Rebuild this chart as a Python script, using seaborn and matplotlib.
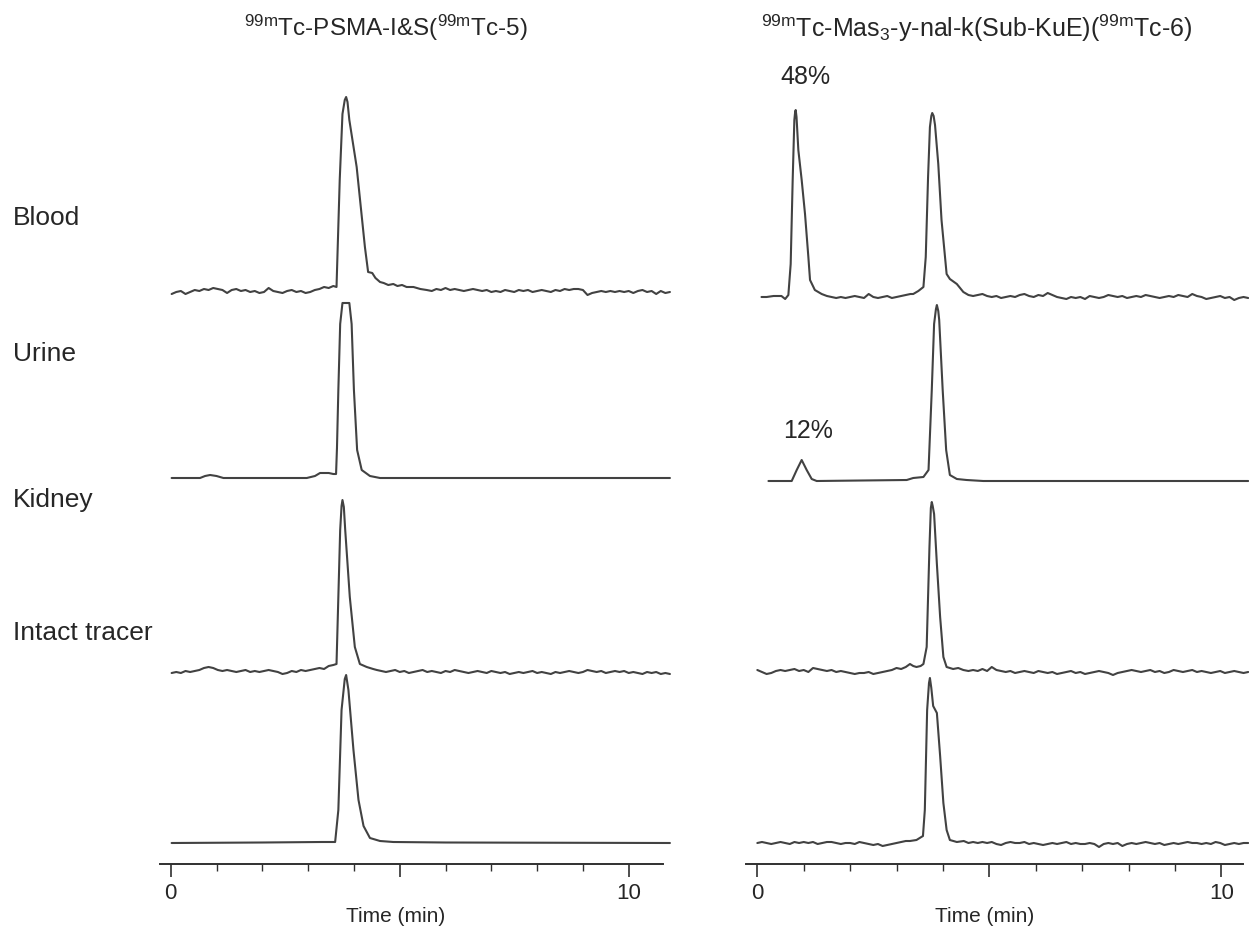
import numpy as np
import pandas as pd
import matplotlib
matplotlib.use("Agg")
import matplotlib.pyplot as plt
import seaborn as sns

# ---------------- data (time in min, signal in arbitrary units above baseline) ----------------
samples = ["Blood", "Urine", "Kidney", "Intact tracer"]
compounds = ["Tc-5", "Tc-6"]
time_ticks = [0, 5, 10]
time_tick_labels = ["0", "", "10"]
minor_ticks = [1, 2, 3, 4, 6, 7, 8, 9]

# 99mTc-5, blood
blood5_pre = [-2, 0, 1, -2, 0, 2, 1, 3, 2, 4, 3, 2, -1, 2, 3, 1, 2, 0, 1, -1, 0, 4, 1, 0,
              -1, 1, 2, 0, 1, -1, 0, 2, 3, 5, 4, 6]
blood5_peak_t = [3.62, 3.69, 3.75, 3.80, 3.83, 3.86, 3.90, 4.06, 4.24, 4.31, 4.40, 4.47, 4.57,
                 4.65, 4.75, 4.86, 4.95, 5.05, 5.15, 5.30, 5.45, 5.59]
blood5_peak_h = [5, 112, 178, 192, 195, 190, 172, 125, 45, 20, 19, 14, 10, 9, 7, 8, 6, 7, 5, 5,
                 3, 2]
blood5_post = [1, 3, 2, 4, 2, 3, 2, 1, 2, 3, 2, 1, 2, 0, 1, 0, 2, 1, 0, 2, 1, 2, 0, 1, 2, 1,
               0, 2, 1, 3, 2, 3, 3, 2, -3, -1, 0, 1, 0, 1, 0, 1, 0, 1, -1, 1, 2, 0, 1, -2, 1, -1, 0]

# 99mTc-5, urine (smooth)
urine5_t = [0.02, 0.50, 0.64, 0.75, 0.86, 1.00, 1.15, 1.40, 2.97, 3.15, 3.26, 3.45, 3.55, 3.61,
            3.63, 3.66, 3.70, 3.75, 3.90, 3.95, 4.00, 4.07, 4.17, 4.35, 4.57, 6.00, 10.90]
urine5_h = [0, 0, 0, 2, 3, 2, 0, 0, 0, 2, 5, 5, 4, 4, 30, 88, 154, 175, 175, 154, 88, 28, 8, 2,
            0, 0, 0]

# 99mTc-5, kidney
kidney5_pre = [-1, 0, -1, 1, 0, 1, 2, 4, 5, 4, 2, 1, 2, 1, 0, 1, 2, 0, 1, 0, 1, 2, 1, 0, -2,
               -1, 1, 0, 2, 1, 2, 3, 4, 3, 6, 7]
kidney5_peak_t = [3.62, 3.70, 3.73, 3.75, 3.78, 3.81, 3.91, 4.02, 4.13, 4.28, 4.42]
kidney5_peak_h = [8, 142, 166, 172, 165, 142, 75, 25, 8, 5, 3]
kidney5_post = [2, 1, 0, 1, 2, 0, 1, -1, 0, 1, 2, 0, 1, 0, -1, 1, 0, 2, 1, 0, -1, 0, 1, 0, -1,
                1, 0, -1, 0, -2, -1, 0, -1, 0, 1, -1, 0, -1, -2, 0, -1, 0, 1, 0, -1, 0, 2, 1,
                0, 1, -1, 0, 1, 0, 1, -1, 0, -1, -2, 0, -1, 0, -2, -1, -2]

# 99mTc-5, intact tracer (smooth)
intact5_t = [0.02, 2.00, 3.30, 3.55, 3.59, 3.66, 3.73, 3.80, 3.83, 3.88, 3.99, 4.10, 4.21,
             4.35, 4.57, 4.86, 6.00, 10.90]
intact5_h = [0, 0.5, 1, 1, 1, 33, 133, 164, 168, 153, 93, 43, 17, 5, 2, 1, 0.5, 0]

# 99mTc-6, blood (metabolite at ~0.8 min)
blood6_pre_t = [0.09, 0.20, 0.35, 0.52, 0.60]
blood6_pre_h = [0, 0, 1, 1, -2]
blood6_peak1_t = [0.669, 0.719, 0.762, 0.798, 0.815, 0.827, 0.845, 0.884, 0.956, 1.028, 1.10,
                  1.136, 1.24, 1.387]
blood6_peak1_h = [2, 33, 117, 177, 185, 187, 180, 147, 117, 83, 40, 17, 7, 3]
blood6_mid = [1, 0, -1, 0, -1, 0, 1, 0, -1, 3, 0, -1, 0, 1, -1, 0, 1, 2, 3]
blood6_peak2_t = [3.36, 3.47, 3.58, 3.63, 3.68, 3.72, 3.75, 3.77, 3.80, 3.83, 3.90, 3.97, 4.08,
                  4.15, 4.30, 4.44]
blood6_peak2_h = [3, 6, 10, 40, 120, 170, 181, 184, 181, 172, 133, 77, 23, 18, 13, 5]
blood6_post = [2, 1, 2, 3, 1, 0, 1, -1, 0, 1, 0, 2, 3, 1, 0, 2, 1, 4, 2, 0, -1, -2, 0, -1, 0,
               -2, 1, 0, -1, 0, 2, 1, 0, 1, -1, 0, 1, 0, 2, 1, 0, -1, 0, 1, 0, 2, 1, 0, 3, 1,
               0, -2, -1, 0, 1, -1, 0, -3, -1, 0, -1]

# 99mTc-6, urine (smooth)
urine6_t = [0.24, 0.741, 0.849, 0.956, 1.064, 1.172, 1.28, 3.22, 3.36, 3.58, 3.69, 3.76, 3.81,
            3.85, 3.87, 3.90, 3.92, 3.995, 4.07, 4.15, 4.30, 4.51, 4.87, 10.58]
urine6_h = [0, 0, 11, 21, 11, 2, 0, 1, 3, 4, 11, 91, 157, 172, 176, 170, 161, 91, 31, 6, 2, 1,
            0, 0]

# 99mTc-6, kidney
kidney6_pre = [2, 0, -2, -1, 1, 2, 1, 2, 3, 1, 2, 0, 4, 3, 2, 1, 2, 0, 1, 0, -1, -2, -1, -1, 0,
               -2, -1, 0, 1, 2, 4, 3, 5]
kidney6_peak_t = [3.29, 3.36, 3.43, 3.52, 3.58, 3.65, 3.71, 3.74, 3.76, 3.78, 3.81, 3.87, 3.94,
                  4.01, 4.08, 4.22, 4.33, 4.44]
kidney6_peak_h = [8, 6, 5, 6, 8, 25, 125, 164, 170, 166, 158, 108, 55, 15, 5, 3, 4, 2]
kidney6_post = [1, 2, 1, 3, 1, 5, 2, 1, 0, 1, -1, 0, 1, 0, -1, 1, 0, -1, 0, -2, -1, 0, 1, -1, 0,
                -2, -1, 0, 1, 0, -1, -3, -1, 0, 1, 2, 1, 0, 1, 2, 0, 1, -1, 0, 2, 1, 0, 1, 2,
                0, 1, 0, -1, 0, 1, -1, 0, 1, 0, -1, 0]

# 99mTc-6, intact tracer
intact6_pre = [0, 1, 0, -1, 0, 1, 0, -1, 1, 0, 1, 0, 1, -1, 0, 1, 1, 0, -1, 0, 0, -1, 1, 0, -1,
               -2, -1, -3, -2, -1, 0, 1, 2]
intact6_peak_t = [3.29, 3.43, 3.50, 3.57, 3.61, 3.66, 3.70, 3.72, 3.75, 3.79, 3.87, 3.94, 4.01,
                  4.08, 4.15, 4.30]
intact6_peak_h = [2, 3, 5, 7, 33, 133, 160, 165, 155, 137, 130, 87, 40, 13, 3, 1]
intact6_post = [2, 0, 1, 0, 1, 0, 1, -1, -2, 0, 1, 0, 0, 1, -1, 0, -1, -2, -1, 0, -1, 0, 1, -1,
                0, -1, -1, 0, -1, -4, -1, 0, -1, 0, -3, -1, 0, -1, 0, 1, 0, -1, 0, -2, -1, 0,
                -1, 0, 1, 0, 0, -1, 0, -1, 1, 0, -2, -1, 0, -1, 0, 0]


def seg(t0, t1, vals):
    # baseline samples recorded at an even detector rate
    return list(np.linspace(t0, t1, len(vals))), list(vals)


def join(*parts):
    t, h = [], []
    for pt, ph in parts:
        t += list(pt)
        h += list(ph)
    return t, h


traces = {
    ("Tc-5", "Blood"): join(seg(0.02, 3.55, blood5_pre), (blood5_peak_t, blood5_peak_h),
                            seg(5.70, 10.90, blood5_post)),
    ("Tc-5", "Urine"): (urine5_t, urine5_h),
    ("Tc-5", "Kidney"): join(seg(0.02, 3.55, kidney5_pre), (kidney5_peak_t, kidney5_peak_h),
                             seg(4.50, 10.90, kidney5_post)),
    ("Tc-5", "Intact tracer"): (intact5_t, intact5_h),
    ("Tc-6", "Blood"): join((blood6_pre_t, blood6_pre_h), (blood6_peak1_t, blood6_peak1_h),
                            seg(1.50, 3.30, blood6_mid), (blood6_peak2_t, blood6_peak2_h),
                            seg(4.55, 10.58, blood6_post)),
    ("Tc-6", "Urine"): (urine6_t, urine6_h),
    ("Tc-6", "Kidney"): join(seg(0.0, 3.20, kidney6_pre), (kidney6_peak_t, kidney6_peak_h),
                             seg(4.55, 10.58, kidney6_post)),
    ("Tc-6", "Intact tracer"): join(seg(0.0, 3.20, intact6_pre), (intact6_peak_t, intact6_peak_h),
                                    seg(4.45, 10.58, intact6_post)),
}

rows = []
for (comp, samp), (t, h) in traces.items():
    for ti, hi in zip(t, h):
        rows.append({"compound": comp, "sample": samp, "time": ti, "signal": hi})
df = pd.DataFrame(rows)

# ---------------- style ----------------
sns.set_style("white")
plt.rcParams["font.family"] = ["Liberation Sans", "DejaVu Sans"]
plt.rcParams["mathtext.fontset"] = "custom"
plt.rcParams["mathtext.rm"] = "Liberation Sans"
plt.rcParams["mathtext.it"] = "Liberation Sans"
plt.rcParams["mathtext.default"] = "regular"

W, H = 1249, 932
fig = plt.figure(figsize=(W / 100, H / 100), dpi=100)

# stacking offsets of the traces (vertical layout)
offsets = {
    "Tc-5": {"Blood": 572, "Urine": 386, "Kidney": 192, "Intact tracer": 21},
    "Tc-6": {"Blood": 567, "Urine": 383, "Kidney": 192, "Intact tracer": 21},
}
panels = {
    "Tc-5": dict(rect=[160 / W, 68 / H, 512 / W, 784 / H], xlim=(-0.234, 10.945),
                 spine=(-0.234, 10.74)),
    "Tc-6": dict(rect=[746 / W, 68 / H, 503 / W, 784 / H], xlim=(-0.244, 10.597),
                 spine=(-0.244, 10.46)),
}
line_col = "#424242"

axes = {}
for comp in compounds:
    p = panels[comp]
    ax = fig.add_axes(p["rect"])
    axes[comp] = ax
    for samp in samples:
        sub = df[(df["compound"] == comp) & (df["sample"] == samp)].copy()
        sub["y"] = sub["signal"] + offsets[comp][samp]
        sns.lineplot(data=sub, x="time", y="y", ax=ax, sort=False, estimator=None,
                     color=line_col, linewidth=1.5)
    ax.set_xlim(*p["xlim"])
    ax.set_ylim(0, 784)
    for s in ["left", "right", "top"]:
        ax.spines[s].set_visible(False)
    ax.spines["bottom"].set_bounds(*p["spine"])
    ax.spines["bottom"].set_linewidth(1.4)
    ax.spines["bottom"].set_color("#303030")
    ax.set_yticks([])
    ax.set_ylabel("")
    ax.set_xticks(time_ticks)
    ax.set_xticklabels(time_tick_labels, fontsize=16)
    ax.set_xticks(minor_ticks, minor=True)
    ax.tick_params(axis="x", which="major", direction="out", length=9.5, width=1.2,
                   color="#303030", pad=4, bottom=True)
    ax.tick_params(axis="x", which="minor", direction="out", length=5, width=1.0,
                   color="#303030", bottom=True)
    ax.set_xlabel("Time (min)", fontsize=15)
    x0, x1 = p["xlim"]
    ax.xaxis.set_label_coords((4.9 - x0) / (x1 - x0), -52 / 784)
    ax.xaxis.label.set_va("center")
    ax.patch.set_alpha(0)

# titles
fig.text(386 / W, 1 - 28 / H, r"$^{99m}$Tc-PSMA-I&S($^{99m}$Tc-5)", ha="center", va="center",
         fontsize=17.5)
fig.text(977 / W, 1 - 28 / H, r"$^{99m}$Tc-Mas$_3$-y-nal-k(Sub-KuE)($^{99m}$Tc-6)",
         ha="center", va="center", fontsize=18)

# row labels
label_y = {"Blood": 218, "Urine": 354, "Kidney": 500, "Intact tracer": 633}
for samp in samples:
    fig.text(13 / W, 1 - label_y[samp] / H, samp, ha="left", va="center", fontsize=19)

# metabolite percentages
ax6 = axes["Tc-6"]
ax6.text(1.03, 787, "48%", ha="center", va="center", fontsize=18, clip_on=False)
ax6.text(1.09, 433, "12%", ha="center", va="center", fontsize=18, clip_on=False)

fig.savefig("out.png", dpi=100, facecolor="white")
